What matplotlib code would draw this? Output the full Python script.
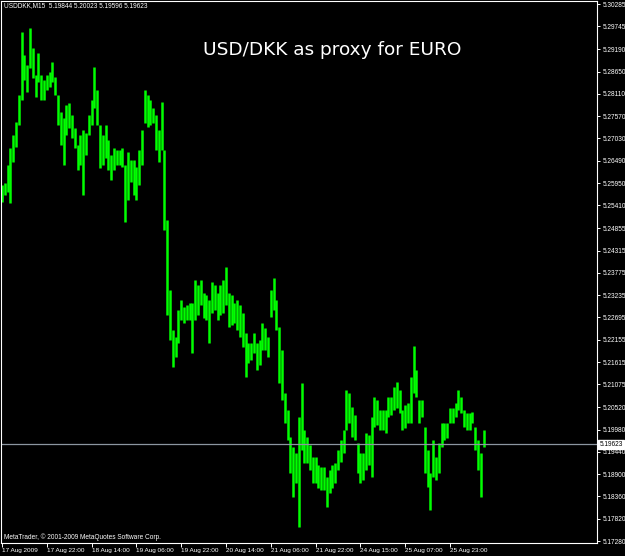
import matplotlib.pyplot as plt
import numpy as np

plt.rcParams['font.family'] = ['Liberation Sans', 'DejaVu Sans']

# hourly high / low (17 Aug 2009 06:00 onwards)
highs = [5.2590, 5.2595, 5.2639, 5.2680, 5.2711, 5.2743, 5.2808, 5.2961, 5.2905, 5.2881,
         5.2970, 5.2922, 5.2857, 5.2910, 5.2857, 5.2844, 5.2857, 5.2864, 5.2888, 5.2852,
         5.2808, 5.2767, 5.2752, 5.2784, 5.2789, 5.2760, 5.2728, 5.2687, 5.2711, 5.2723,
         5.2716, 5.2760, 5.2796, 5.2876, 5.2820, 5.2735, 5.2711, 5.2735, 5.2699, 5.2663,
         5.2680, 5.2675, 5.2675, 5.2680, 5.2639, 5.2670, 5.2651, 5.2651, 5.2634, 5.2675,
         5.2723, 5.2820, 5.2808, 5.2796, 5.2777, 5.2760, 5.2723, 5.2791, 5.2675, 5.2505,
         5.2336, 5.2239, 5.2222, 5.2287, 5.2312, 5.2295, 5.2300, 5.2304, 5.2304, 5.2360,
         5.2348, 5.2360, 5.2329, 5.2324, 5.2312, 5.2355, 5.2348, 5.2329, 5.2348, 5.2360,
         5.2392, 5.2329, 5.2324, 5.2304, 5.2312, 5.2300, 5.2280, 5.2232, 5.2208, 5.2208,
         5.2232, 5.2208, 5.2215, 5.2256, 5.2244, 5.2222, 5.2336, 5.2365, 5.2312, 5.2246,
         5.2191, 5.2086, 5.2045, 5.1980, 5.1956, 5.1941, 5.2028, 5.2111, 5.1997, 5.1980,
         5.1960, 5.1931, 5.1931, 5.1912, 5.1907, 5.1907, 5.1883, 5.1900, 5.1912, 5.1917,
         5.1948, 5.1973, 5.1997, 5.2094, 5.2086, 5.2052, 5.2033, 5.1965, 5.1941, 5.1941,
         5.1990, 5.1985, 5.2028, 5.2077, 5.2069, 5.2045, 5.2045, 5.2045, 5.2077, 5.2077,
         5.2101, 5.2113, 5.2094, 5.2045, 5.2057, 5.2062, 5.2125, 5.2200, 5.2142, 5.2069,
         5.2069, 5.2004, 5.1948, 5.1893, 5.1973, 5.1931, 5.1965, 5.2014, 5.2014, 5.2014,
         5.2050, 5.2050, 5.2062, 5.2094, 5.2077, 5.2045, 5.2038, 5.2038, 5.2040, 5.2004,
         5.1973, 5.1941, 5.1997]
lows = [5.2549, 5.2566, 5.2573, 5.2547, 5.2646, 5.2682, 5.2735, 5.2796, 5.2844, 5.2815,
        5.2874, 5.2849, 5.2803, 5.2840, 5.2796, 5.2796, 5.2820, 5.2827, 5.2840, 5.2808,
        5.2735, 5.2687, 5.2639, 5.2711, 5.2728, 5.2704, 5.2680, 5.2626, 5.2639, 5.2566,
        5.2663, 5.2711, 5.2735, 5.2777, 5.2735, 5.2631, 5.2639, 5.2656, 5.2626, 5.2602,
        5.2626, 5.2639, 5.2639, 5.2634, 5.2501, 5.2554, 5.2597, 5.2566, 5.2554, 5.2590,
        5.2639, 5.2740, 5.2731, 5.2735, 5.2740, 5.2675, 5.2646, 5.2675, 5.2481, 5.2275,
        5.2215, 5.2149, 5.2174, 5.2208, 5.2263, 5.2256, 5.2263, 5.2263, 5.2183, 5.2263,
        5.2275, 5.2300, 5.2268, 5.2263, 5.2208, 5.2280, 5.2287, 5.2263, 5.2275, 5.2280,
        5.2300, 5.2246, 5.2251, 5.2256, 5.2239, 5.2222, 5.2198, 5.2125, 5.2159, 5.2166,
        5.2183, 5.2142, 5.2154, 5.2191, 5.2191, 5.2174, 5.2270, 5.2287, 5.2239, 5.2111,
        5.2069, 5.2014, 5.1973, 5.1893, 5.1835, 5.1868, 5.1762, 5.1948, 5.1917, 5.1917,
        5.1900, 5.1868, 5.1868, 5.1856, 5.1851, 5.1851, 5.1810, 5.1844, 5.1856, 5.1868,
        5.1900, 5.1919, 5.1941, 5.1997, 5.2014, 5.1980, 5.1973, 5.1893, 5.1868, 5.1876,
        5.1900, 5.1912, 5.1883, 5.2004, 5.2009, 5.1997, 5.1997, 5.1990, 5.2028, 5.2033,
        5.2045, 5.2050, 5.2038, 5.1997, 5.2002, 5.2014, 5.2014, 5.2086, 5.2077, 5.2014,
        5.2028, 5.1893, 5.1859, 5.1803, 5.1883, 5.1876, 5.1893, 5.1956, 5.1973, 5.1977,
        5.2014, 5.2014, 5.2028, 5.2045, 5.2038, 5.2004, 5.1997, 5.1997, 5.2014, 5.1948,
        5.1900, 5.1835, 5.1956]

tick_hours = [0, 16, 32, 48, 64, 80, 96, 112, 128, 144, 160]
tick_labels = ["17 Aug 2009", "17 Aug 22:00", "18 Aug 14:00", "19 Aug 06:00",
               "19 Aug 22:00", "20 Aug 14:00", "21 Aug 06:00", "21 Aug 22:00",
               "24 Aug 15:00", "25 Aug 07:00", "25 Aug 23:00"]
price_labels = ["5.30285", "5.29745", "5.29190", "5.28650", "5.28110", "5.27570",
                "5.27030", "5.26490", "5.25950", "5.25410", "5.24855", "5.24315",
                "5.23775", "5.23235", "5.22695", "5.22155", "5.21615", "5.21075",
                "5.20520", "5.19980", "5.19440", "5.18900", "5.18360", "5.17820",
                "5.17280"]
bid = 5.19623
header = "USDDKK,M15  5.19844 5.20023 5.19596 5.19623"

W, H = 625, 556
fig = plt.figure(figsize=(W / 100, H / 100), dpi=100, facecolor='black')
ax = fig.add_axes([1 / W, 13 / H, 596 / W, 542 / H], facecolor='black')

bars = np.arange(len(highs))
ax.vlines(bars, lows, highs, color='#00ff00', lw=1.8)
ax.axhline(bid, color='#8c96a0', lw=0.9)

ax.set_xlim(-0.36, 212.5)
ax.set_ylim(5.17232, 5.30358)

for s in ax.spines.values():
    s.set_color('white')
    s.set_linewidth(0.8)

ax.yaxis.tick_right()
ax.set_yticks([float(p) for p in price_labels], price_labels)
ax.tick_params(axis='y', colors='white', length=2.5, width=0.7, pad=1.5, labelsize=4.7)
ax.set_xticks(tick_hours, tick_labels)
ax.tick_params(axis='x', colors='white', length=3, width=0.7, pad=0.5, labelsize=4.6)
for lab in ax.get_xticklabels():
    lab.set_horizontalalignment('left')

ax.text(1.004, bid, "5.19623", transform=ax.get_yaxis_transform(), ha='left', va='center',
        fontsize=4.7, color='black',
        bbox=dict(facecolor='white', edgecolor='white', pad=0.8))

fig.text(332 / W, 1 - 50 / H, "USD/DKK as proxy for EURO", color='white', fontsize=13.3,
         ha='center', va='center', family='DejaVu Sans')
fig.text(4 / W, 1 - 6 / H, header, color='white', fontsize=4.7, va='center')
fig.text(4 / W, 1 - 537 / H, "MetaTrader, \u00a9 2001-2009 MetaQuotes Software Corp.",
         color='white', fontsize=4.7, va='center')

fig.savefig('out.png', dpi=100, facecolor='black')
